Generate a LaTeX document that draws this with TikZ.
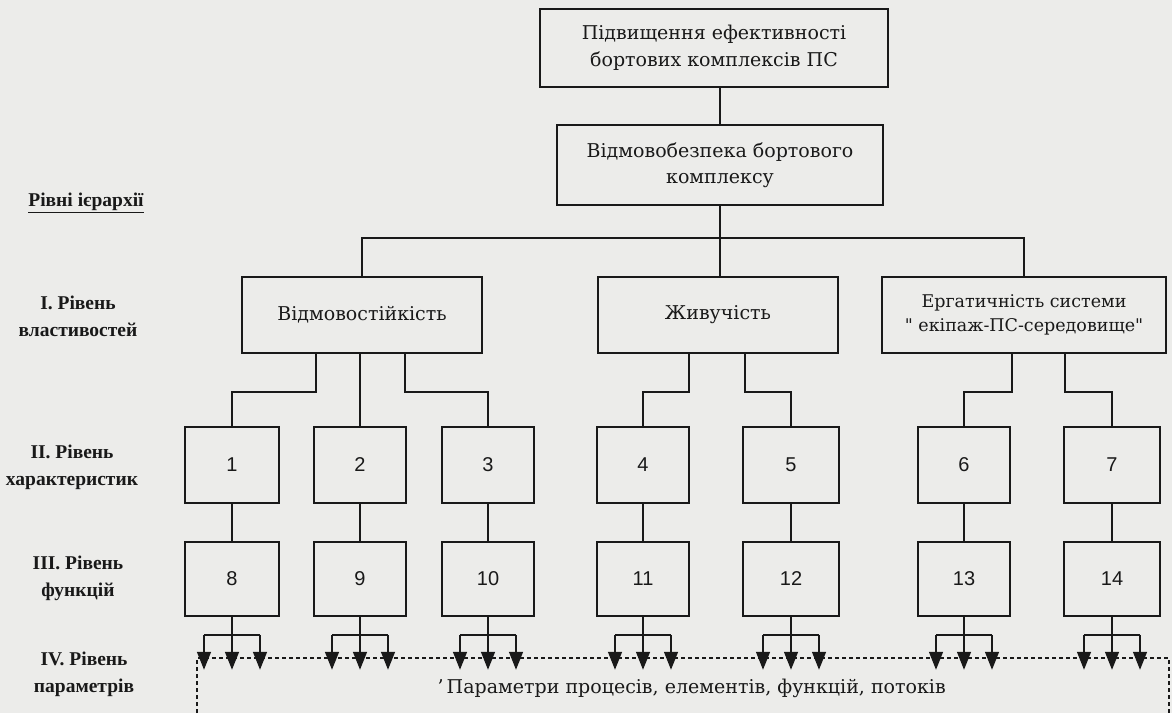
\documentclass[tikz,border=0pt]{standalone}
\usepackage{fontspec}
\setmainfont{DejaVu Serif}
\newfontfamily\qfont{DejaVu Serif}[Ligatures=TeXOff]
\newfontfamily\numfont{Liberation Sans}
\newfontfamily\lblfont{Liberation Serif}
\usetikzlibrary{arrows.meta}
\definecolor{paper}{RGB}{236,236,234}
\definecolor{ink}{RGB}{25,25,25}
\tikzset{
  box/.style={draw=ink, line width=1.5pt, rectangle, align=center, inner sep=0pt, text=ink,
              font=\fontsize{19}{27}\selectfont},
  numbox/.style={box, font=\numfont\fontsize{20}{22}\selectfont},
  conn/.style={draw=ink, line width=1.5pt},
  arr/.style={draw=ink, line width=1.5pt, -{Triangle[length=18pt,width=14pt]}},
  frame/.style={draw=ink, line width=1.2pt, dash pattern=on 4pt off 3pt},
  lvl/.style={align=center, text=ink, font=\lblfont\bfseries\fontsize{19.5}{27}\selectfont},
}
\begin{document}
\begin{tikzpicture}[x=1pt,y=-1pt]
\useasboundingbox[fill=paper] (0,0) rectangle (1172,713);

% level labels
\node[lvl] (hdr) at (86,203) {\underline{Рівні ієрархії}};
\node[lvl] (lv1) at (78,316) {І. Рівень\\властивостей};
\node[lvl] (lv2) at (72,467) {ІІ. Рівень\\характеристик};
\node[lvl] (lv3) at (78,578) {ІІІ. Рівень\\функцій};
\node[lvl] (lv4) at (84,674) {IV. Рівень\\параметрів};

% top boxes
\node[box, minimum width=348pt, minimum height=78pt] (top) at (714,48)
  {Підвищення ефективності\\бортових комплексів ПС};
\node[box, minimum width=326pt, minimum height=80pt, font=\fontsize{19}{26}\selectfont] (sec) at (720,165)
  {Відмовобезпека бортового\\комплексу};

% level I
\node[box, minimum width=240pt, minimum height=76pt] (pa) at (362,315) {Відмовостійкість};
\node[box, minimum width=240pt, minimum height=76pt] (pb) at (718,315) {Живучість};
\node[box, minimum width=284pt, minimum height=76pt, font=\qfont\fontsize{17.5}{24}\selectfont] (pc) at (1024,315)
  {Ергатичність системи\\" екіпаж-ПС-середовище"};

% level II and III
\foreach \i/\j/\cx/\w in {1/8/232/94, 2/9/360/92, 3/10/488/92, 4/11/643/92, 5/12/791/96, 6/13/964/92, 7/14/1112/96} {
  \node[numbox, minimum width=\w pt, minimum height=76pt] (b\i) at (\cx,465) {\i};
  \node[numbox, minimum width=\w pt, minimum height=74pt] (b\j) at (\cx,579) {\j};
  \draw[conn] (b\i.south) -- (b\j.north);
}

% connectors top
\draw[conn] (top.south -| sec.north) -- (sec.north);
\coordinate (hub) at (720,238);
\draw[conn] (sec.south) -- (sec.south |- pb.north);
\draw[conn] (pa.north) |- (hub) -| (pc.north);

% level I -> II
\draw[conn] ([xshift=-46pt]pa.south) -- ++(0,38) -| (b1.north);
\draw[conn] (b2.north |- pa.south) -- (b2.north);
\draw[conn] ([xshift=43pt]pa.south) -- ++(0,38) -| (b3.north);
\draw[conn] ([xshift=-29pt]pb.south) -- ++(0,38) -| (b4.north);
\draw[conn] ([xshift=27pt]pb.south) -- ++(0,38) -| (b5.north);
\draw[conn] ([xshift=-12pt]pc.south) -- ++(0,38) -| (b6.north);
\draw[conn] ([xshift=41pt]pc.south) -- ++(0,38) -| (b7.north);

% dashed frame
\coordinate (fl) at (197,713);
\coordinate (fr) at (1169,713);
\draw[frame] (fl) -- (197,658) -- (1169,658) -- (fr);

% level III -> parameters
\foreach \n in {8,...,14} {
  \draw[conn] (b\n.south) -- ++(0,18) coordinate (m\n);
  \draw[conn] ([xshift=-28pt]m\n) -- ([xshift=28pt]m\n);
  \foreach \dx in {-28,0,28} {
    \draw[arr] ([xshift=\dx pt]m\n) -- ++(0,35);
  }
}

\node[text=ink, font=\fontsize{19}{22}\selectfont, anchor=west] (par) at (434,688)
  {’\,Параметри процесів, елементів, функцій, потоків};
\end{tikzpicture}
\end{document}
